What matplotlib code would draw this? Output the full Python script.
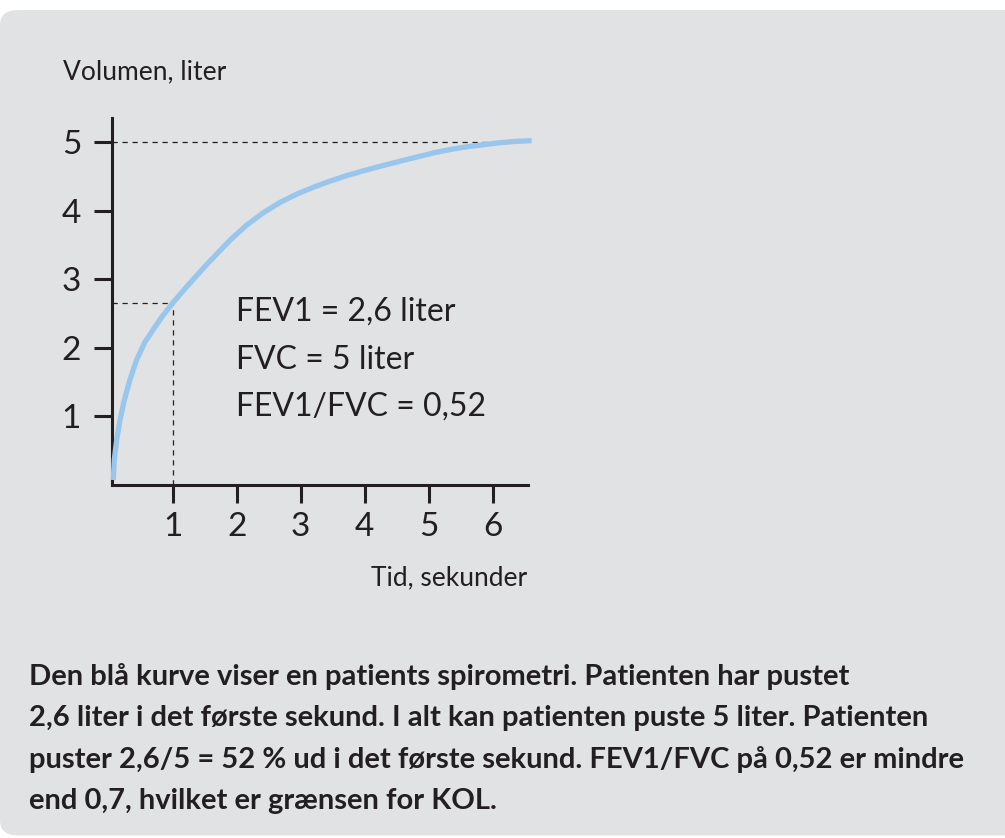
import matplotlib
matplotlib.use('Agg')
import matplotlib.pyplot as plt
from matplotlib.patches import FancyBboxPatch

plt.rcParams['font.family'] = ['Lato', 'DejaVu Sans']

# spirometri-kurve (sekunder, liter)
tid = [0.072, 0.088, 0.125, 0.177, 0.244, 0.333, 0.437, 0.567, 0.723, 0.85, 1.0,
       1.24, 1.55, 1.90, 2.16, 2.42, 2.68, 2.94, 3.20, 3.46, 3.72, 3.98,
       4.26, 4.55, 4.81, 5.07, 5.33, 5.59, 5.85, 6.11, 6.36, 6.61]
volumen = [0.066, 0.36, 0.65, 0.94, 1.23, 1.53, 1.82, 2.08, 2.30, 2.47, 2.65,
           2.91, 3.23, 3.57, 3.79, 3.97, 4.12, 4.24, 4.34, 4.43, 4.51, 4.58,
           4.65, 4.72, 4.78, 4.84, 4.89, 4.93, 4.96, 4.99, 5.01, 5.02]

fev1 = 2.65
fvc = 5
x_ticks = [1, 2, 3, 4, 5, 6]
y_ticks = [1, 2, 3, 4, 5]
info_lines = ['FEV1 = 2,6 liter', 'FVC = 5 liter', 'FEV1/FVC = 0,52']
caption = ['Den blå kurve viser en patients spirometri. Patienten har pustet',
           '2,6 liter i det første sekund. I alt kan patienten puste 5 liter. Patienten',
           'puster 2,6/5 = 52 % ud i det første sekund. FEV1/FVC på 0,52 er mindre',
           'end 0,7, hvilket er grænsen for KOL.']

INK = '#231f20'
BG = '#e1e2e4'
BLUE = '#98c6ec'

fig = plt.figure(figsize=(10.05, 8.38), dpi=100)
fig.patch.set_facecolor('white')
box = FancyBboxPatch((0, 0.003), 1.05, 0.985, boxstyle='round,pad=0,rounding_size=0.018',
                     transform=fig.transFigure, facecolor=BG, edgecolor='none', zorder=-10)
fig.patches.append(box)

ax = fig.add_axes([0.1111, 0.4218, 0.4139, 0.4373])
ax.set_facecolor('none')
ax.set_xlim(0.047, 6.547)
ax.set_ylim(0, 5.35)

ax.plot(tid, volumen, color=BLUE, lw=3.8, solid_capstyle='butt', solid_joinstyle='round',
        clip_on=False, zorder=3)

dash = dict(color=INK, lw=0.9, dashes=(4.2, 3.8), zorder=2)
ax.plot([0.047, 6.1], [fvc, fvc], **dash)
ax.plot([0.047, 1], [fev1, fev1], **dash)
ax.plot([1, 1], [0, fev1], **dash)

for s in ['top', 'right']:
    ax.spines[s].set_visible(False)
for s in ['left', 'bottom']:
    ax.spines[s].set_color(INK)
    ax.spines[s].set_linewidth(2.2)
    ax.spines[s].set_capstyle('projecting')

ax.set_xticks(x_ticks)
ax.set_yticks(y_ticks)
ax.set_xticklabels([str(v) for v in x_ticks])
ax.set_yticklabels([str(v) for v in y_ticks])
ax.tick_params(axis='both', direction='out', length=13, width=2.2, color=INK,
               labelcolor=INK, labelsize=24)
ax.tick_params(axis='x', pad=7)
ax.tick_params(axis='y', pad=9)

fig.text(63 / 1005, 1 - 72 / 838, 'Volumen, liter', fontsize=19, color=INK, va='center', ha='left')
fig.text(527 / 1005, 1 - 578 / 838, 'Tid, sekunder', fontsize=19, color=INK, va='center', ha='right')

for i, line in enumerate(info_lines):
    fig.text(236 / 1005, 1 - (312 + i * 47.5) / 838, line, fontsize=23, color=INK,
             va='center', ha='left')

for i, line in enumerate(caption):
    fig.text(29 / 1005, 1 - (676 + i * 41.5) / 838, line, fontsize=21, fontweight='bold',
             color=INK, va='center', ha='left')

fig.savefig('out.png', dpi=100, facecolor=fig.get_facecolor())
